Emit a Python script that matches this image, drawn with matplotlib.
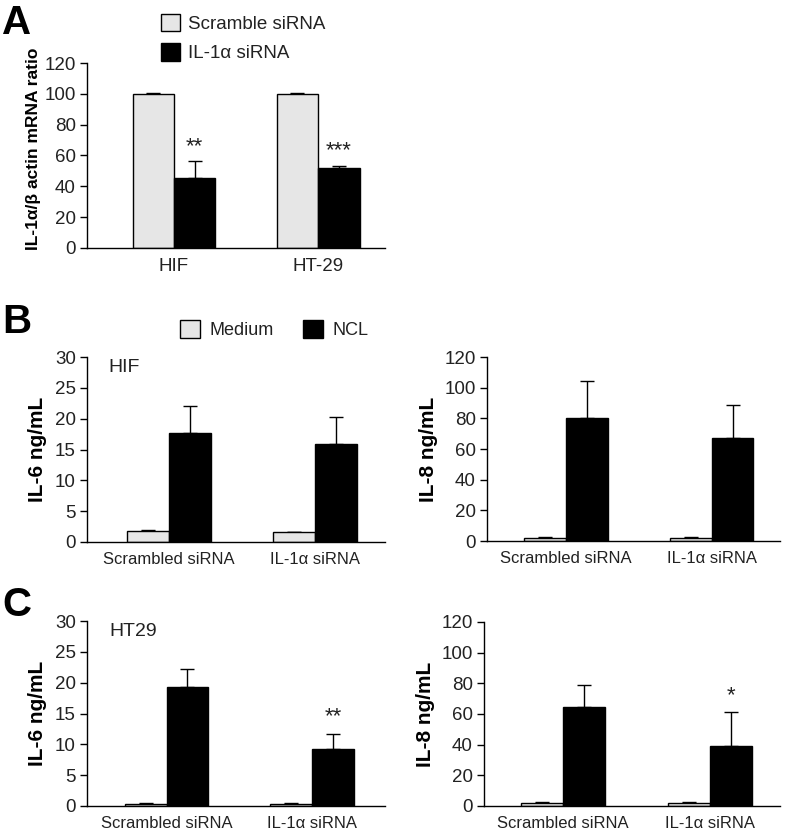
import matplotlib
matplotlib.use("Agg")
import matplotlib.pyplot as plt
from matplotlib.patches import Patch

plt.rcParams['font.family'] = ['Liberation Sans', 'DejaVu Sans']

# ---------------- data ----------------
a_groups = ["HIF", "HT-29"]
a_scramble = [100.2, 100.2]
a_scramble_err = [0.6, 0.6]
a_il1a = [45.4, 51.6]
a_il1a_err = [10.8, 1.8]
a_stars = ["**", "***"]

bc_groups = ["Scrambled siRNA", "IL-1\u03b1 siRNA"]

b_il6_medium = [1.8, 1.6]
b_il6_medium_err = [0.1, 0.1]
b_il6_ncl = [17.6, 15.9]
b_il6_ncl_err = [4.5, 4.4]

b_il8_medium = [2.2, 2.2]
b_il8_medium_err = [0.2, 0.2]
b_il8_ncl = [80.2, 67.4]
b_il8_ncl_err = [24.3, 21.5]

c_il6_medium = [0.4, 0.4]
c_il6_medium_err = [0.1, 0.1]
c_il6_ncl = [19.3, 9.3]
c_il6_ncl_err = [2.9, 2.3]
c_il6_stars = ["", "**"]

c_il8_medium = [1.7, 1.7]
c_il8_medium_err = [0.6, 0.6]
c_il8_ncl = [64.8, 39.4]
c_il8_ncl_err = [14.2, 21.6]
c_il8_stars = ["", "*"]

LIGHT = "#e6e6e6"
DARK = "#000000"
TXT = "#222222"

W, H = 785, 833
fig = plt.figure(figsize=(W / 100, H / 100), dpi=100)


def px(l, t, r, b):
    return [l / W, 1 - b / H, (r - l) / W, (b - t) / H]


def draw(ax, groups, v1, e1, v2, e2, ymax, ystep, xlim, tickfs=12, stars=None, star_off=0):
    x = list(range(len(groups)))
    w = 0.288
    x1 = [i - w / 2 for i in x]
    x2 = [i + w / 2 for i in x]
    ax.bar(x1, v1, width=w, color=LIGHT, edgecolor="black", linewidth=1.0, zorder=2)
    ax.bar(x2, v2, width=w, color=DARK, edgecolor="black", linewidth=1.0, zorder=2)
    ax.errorbar(x1, v1, yerr=[[0] * len(v1), e1], fmt="none", ecolor="black",
                elinewidth=1.0, capsize=5, capthick=1.0, zorder=1)
    ax.errorbar(x2, v2, yerr=[[0] * len(v2), e2], fmt="none", ecolor="black",
                elinewidth=1.0, capsize=5, capthick=1.0, zorder=1)
    ax.set_xlim(*xlim)
    ax.set_ylim(0, ymax)
    ax.set_yticks(list(range(0, ymax + 1, ystep)))
    ax.set_xticks(x)
    ax.set_xticklabels(groups, fontsize=tickfs, color=TXT)
    ax.tick_params(axis="x", length=0, pad=7)
    ax.tick_params(axis="y", length=5, width=1, direction="out", labelsize=13.5,
                   labelcolor=TXT, color="black", pad=3)
    for s in ("top", "right"):
        ax.spines[s].set_visible(False)
    for s in ("left", "bottom"):
        ax.spines[s].set_linewidth(1.0)
    if stars:
        for xi, vi, ei, st in zip(x2, v2, e2, stars):
            if st:
                ax.text(xi, vi + ei + star_off, st, ha="center", va="bottom",
                        fontsize=16, color=TXT)


# ---------------- panel A ----------------
axA = fig.add_axes(px(87, 63, 385, 248))
draw(axA, a_groups, a_scramble, a_scramble_err, a_il1a, a_il1a_err, 120, 20,
     (-0.604, 1.465), tickfs=13.5, stars=a_stars, star_off=3)
axA.set_ylabel("IL-1\u03b1/\u03b2 actin mRNA ratio", fontsize=12.5, fontweight="bold")
axA.yaxis.set_label_coords(-0.155, 0.535)
legA = fig.legend(handles=[Patch(facecolor=LIGHT, edgecolor="black", lw=1.0, label="Scramble siRNA"),
                           Patch(facecolor=DARK, edgecolor="black", lw=1.0, label="IL-1\u03b1 siRNA")],
                  loc="upper left", bbox_to_anchor=(157 / W, 1 - 10 / H), frameon=False,
                  fontsize=13.5, handlelength=1.0, handleheight=1.05, handletextpad=0.45,
                  labelspacing=0.55, borderaxespad=0, borderpad=0.2)
for t in legA.get_texts():
    t.set_color(TXT)

# ---------------- panel B ----------------
axB1 = fig.add_axes(px(87, 357, 385, 542))
draw(axB1, bc_groups, b_il6_medium, b_il6_medium_err, b_il6_ncl, b_il6_ncl_err,
     30, 5, (-0.562, 1.479))
axB1.set_ylabel("IL-6 ng/mL", fontsize=15, fontweight="bold", labelpad=6)
axB1.text(0.072, 0.99, "HIF", transform=axB1.transAxes, ha="left", va="top",
          fontsize=14, color=TXT)

axB2 = fig.add_axes(px(487, 357, 780, 541))
draw(axB2, bc_groups, b_il8_medium, b_il8_medium_err, b_il8_ncl, b_il8_ncl_err,
     120, 20, (-0.541, 1.47))
axB2.set_ylabel("IL-8 ng/mL", fontsize=15, fontweight="bold", labelpad=5)

legB = fig.legend(handles=[Patch(facecolor=LIGHT, edgecolor="black", lw=1.0, label="Medium"),
                           Patch(facecolor=DARK, edgecolor="black", lw=1.0, label="NCL")],
                  loc="upper left", bbox_to_anchor=(176 / W, 1 - 316 / H), frameon=False,
                  ncol=2, fontsize=13, handlelength=1.15, handleheight=1.2,
                  handletextpad=0.5, columnspacing=1.6, borderaxespad=0, borderpad=0.2)
for t in legB.get_texts():
    t.set_color(TXT)

# ---------------- panel C ----------------
axC1 = fig.add_axes(px(87, 621, 385, 806))
draw(axC1, bc_groups, c_il6_medium, c_il6_medium_err, c_il6_ncl, c_il6_ncl_err,
     30, 5, (-0.546, 1.50), stars=c_il6_stars, star_off=1.2)
axC1.set_ylabel("IL-6 ng/mL", fontsize=15, fontweight="bold", labelpad=6)
axC1.text(0.075, 0.99, "HT29", transform=axC1.transAxes, ha="left", va="top",
          fontsize=14, color=TXT)

axC2 = fig.add_axes(px(484, 622, 780, 806))
draw(axC2, bc_groups, c_il8_medium, c_il8_medium_err, c_il8_ncl, c_il8_ncl_err,
     120, 20, (-0.537, 1.476), stars=c_il8_stars, star_off=4)
axC2.set_ylabel("IL-8 ng/mL", fontsize=15, fontweight="bold", labelpad=5)

# panel letters
for letter, y in (("A", 4), ("B", 303), ("C", 586)):
    fig.text(2 / W, 1 - y / H, letter, fontsize=29, fontweight="bold", ha="left", va="top")

fig.savefig("out.png", dpi=100)
